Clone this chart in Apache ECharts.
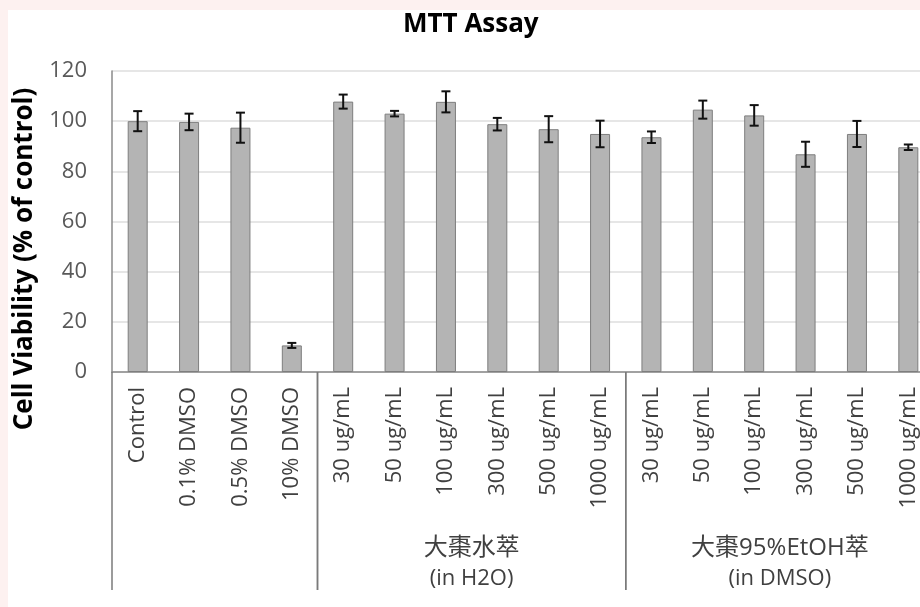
<!DOCTYPE html>
<html>
<head>
<meta charset="utf-8">
<script src="https://cdn.jsdelivr.net/npm/echarts@6/dist/echarts.min.js"></script>
<style>
  html, body { margin: 0; padding: 0; background: #fdf1f0; }
  #chart { width: 920px; height: 607px; }
</style>
</head>
<body>
<div id="chart"></div>
<script>
// Treatments along the x axis
const categories = [
  'Control', '0.1% DMSO', '0.5% DMSO', '10% DMSO',
  '30 ug/mL', '50 ug/mL', '100 ug/mL', '300 ug/mL', '500 ug/mL', '1000 ug/mL',
  '30 ug/mL', '50 ug/mL', '100 ug/mL', '300 ug/mL', '500 ug/mL', '1000 ug/mL'
];
// Mean cell viability (% of control) and its error
const viability = [100.0, 99.7, 97.4, 10.6, 107.8, 103.0, 107.7, 98.8, 96.8, 94.9, 93.6, 104.6, 102.3, 86.8, 94.9, 89.6];
const errors    = [4.0, 3.3, 6.0, 1.0, 2.8, 1.1, 4.2, 2.5, 5.2, 5.3, 2.3, 3.6, 4.1, 5.0, 5.2, 1.1];
// Treatment groups: first and one-past-last category index, with captions
const groupStart = [0, 4, 10];
const groupEnd   = [4, 10, 16];
const groupName    = ['', '大棗水萃', '大棗95%EtOH萃'];
const groupSolvent = ['', '(in H2O)', '(in DMSO)'];
// Value axis ticks
const yMin = 0, yMax = 120, yStep = 20;

const FONT = '"Open Sans", "Noto Sans CJK TC", sans-serif';
const chart = echarts.init(document.getElementById('chart'), null, { renderer: 'canvas' });

const errorData = viability.map((v, i) => [i, v, errors[i]]);
const groupData = groupStart.map((s, g) => [s, groupEnd[g], g]);

chart.setOption({
  backgroundColor: '#fdf1f0',
  animation: false,
  graphic: [
    { type: 'rect', z: -10, silent: true, shape: { x: 8, y: 10, width: 912, height: 597 }, style: { fill: '#ffffff' } },
    {
      type: 'text', x: 25, y: 259, rotation: Math.PI / 2, silent: true,
      style: { text: 'Cell Viability (% of control)', font: 'bold 26px ' + FONT, fill: '#000', align: 'center', verticalAlign: 'middle' }
    }
  ],
  title: {
    text: 'MTT Assay', left: 398, top: 7,
    textStyle: { fontFamily: FONT, fontWeight: 'bold', fontSize: 26, color: '#000' }
  },
  grid: { left: 112, right: -14, top: 71, bottom: 235, containLabel: false, outerBoundsMode: 'none' },
  xAxis: {
    type: 'category', data: categories,
    axisLine: { show: true, lineStyle: { color: '#8a8a8a', width: 1.5 } },
    axisTick: { show: false },
    axisLabel: { rotate: 90, interval: 0, margin: 15, fontFamily: FONT, fontSize: 22, color: '#404040' },
    splitLine: { show: false }
  },
  yAxis: {
    type: 'value', min: yMin, max: yMax, interval: yStep,
    axisLine: { show: true, lineStyle: { color: '#8a8a8a', width: 1.5 } },
    axisTick: { show: false },
    axisLabel: { margin: 25, fontFamily: FONT, fontSize: 22, color: '#595959' },
    splitLine: { show: true, lineStyle: { color: '#dedede', width: 1.5 } }
  },
  series: [
    {
      type: 'bar', data: viability, barWidth: 20,
      itemStyle: { color: '#b4b4b4', borderColor: '#7e7e7e', borderWidth: 1 },
      z: 2
    },
    {
      // error bars with caps
      type: 'custom', data: errorData, z: 5, clip: false,
      renderItem: function (params, api) {
        const i = api.value(0), v = api.value(1), e = api.value(2);
        const top = api.coord([i, v + e]);
        const bot = api.coord([i, v - e]);
        const hw = 4.5;
        const st = { stroke: '#111', lineWidth: 2 };
        return {
          type: 'group',
          children: [
            { type: 'line', shape: { x1: top[0], y1: top[1], x2: bot[0], y2: bot[1] }, style: st },
            { type: 'line', shape: { x1: top[0] - hw, y1: top[1], x2: top[0] + hw, y2: top[1] }, style: st },
            { type: 'line', shape: { x1: bot[0] - hw, y1: bot[1], x2: bot[0] + hw, y2: bot[1] }, style: st }
          ]
        };
      }
    },
    {
      // group separators below the axis and group captions
      type: 'custom', data: groupData, z: 4, clip: false, silent: true,
      renderItem: function (params, api) {
        const s = api.value(0), e = api.value(1), g = api.value(2);
        const band = api.size([1, 0])[0];
        const p0 = api.coord([s, 0]);
        const p1 = api.coord([e - 1, 0]);
        const xL = p0[0] - band / 2;
        const xR = p1[0] + band / 2;
        const lineSt = { stroke: '#7a7a7a', lineWidth: 1.5 };
        const children = [
          { type: 'line', shape: { x1: xL, y1: p0[1], x2: xL, y2: p0[1] + 218 }, style: lineSt },
          { type: 'line', shape: { x1: xR, y1: p0[1], x2: xR, y2: p0[1] + 218 }, style: lineSt }
        ];
        if (groupName[g]) {
          const cx = (xL + xR) / 2;
          children.push({
            type: 'text', x: cx, y: p0[1] + 176,
            style: { text: groupName[g], font: '24px ' + FONT, fill: '#404040', align: 'center', verticalAlign: 'middle' }
          });
          children.push({
            type: 'text', x: cx, y: p0[1] + 207,
            style: { text: groupSolvent[g], font: '22px ' + FONT, fill: '#404040', align: 'center', verticalAlign: 'middle' }
          });
        }
        return { type: 'group', children: children };
      }
    }
  ]
});
</script>
</body>
</html>
